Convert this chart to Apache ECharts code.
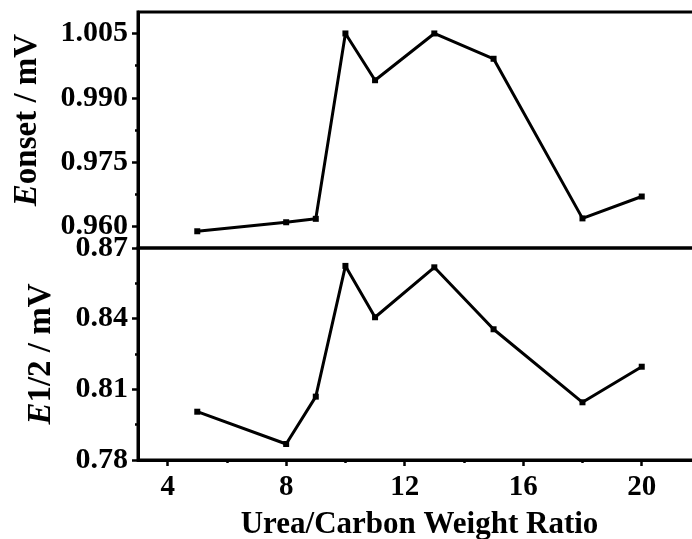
<!DOCTYPE html>
<html><head><meta charset="utf-8">
<script src="https://cdn.jsdelivr.net/npm/echarts@6/dist/echarts.min.js"></script>
<style>html,body{margin:0;padding:0;background:#fff}#c{width:692px;height:539px}</style>
</head><body><div id="c"></div>
<script>
const ratio = [5, 8, 9, 10, 11, 13, 15, 18, 20];
const eOnset = [0.9589, 0.9610, 0.9618, 1.0050, 0.9941, 1.0050, 0.9991, 0.9619, 0.9670];
const eHalf = [0.8005, 0.7868, 0.8069, 0.8624, 0.8406, 0.8618, 0.8355, 0.8045, 0.8196];
const xTicks = [4, 8, 12, 16, 20];
const xMinor = [6, 10, 14, 18];
const onsetTicks = [0.960, 0.975, 0.990, 1.005];
const onsetMinor = [0.9675, 0.9825, 0.9975];
const halfTicks = [0.78, 0.81, 0.84, 0.87];
const halfMinor = [0.795, 0.825, 0.855];

const FF = 'Liberation Serif';
const labY = {fontFamily: FF, fontWeight: 'bold', fontSize: 30, color: '#000'};
const labX = {fontFamily: FF, fontWeight: 'bold', fontSize: 29, color: '#000'};
const nameStyle = (pad) => ({
  fontFamily: FF, fontWeight: 'bold', fontSize: 33, color: '#000', padding: pad,
  rich: {i: {fontFamily: FF, fontWeight: 'bold', fontStyle: 'italic', fontSize: 33, color: '#000'}}
});
const lineBlack = {show: true, onZero: false, lineStyle: {color: '#000', width: 3}};
const hidden = {show: false};

const chart = echarts.init(document.getElementById('c'), null, {renderer: 'canvas'});
chart.setOption({
  animation: false,
  backgroundColor: '#fff',
  grid: [
    {left: 138, top: 12, width: 563, height: 236, containLabel: false, outerBoundsMode: 'none',
     show: true, borderColor: '#000', borderWidth: 3, backgroundColor: 'transparent'},
    {left: 138, top: 248, width: 563, height: 212, containLabel: false, outerBoundsMode: 'none',
     show: true, borderColor: '#000', borderWidth: 3, backgroundColor: 'transparent'}
  ],
  xAxis: [
    {gridIndex: 0, type: 'value', min: 3, max: 22, position: 'bottom',
     axisLine: hidden, axisTick: hidden, axisLabel: hidden, splitLine: hidden},
    {gridIndex: 1, type: 'value', min: 3, max: 22, position: 'bottom',
     axisLine: lineBlack,
     axisTick: {show: true, customValues: xTicks, length: 6, lineStyle: {color: '#000', width: 2.5}},
     axisLabel: Object.assign({customValues: xTicks, margin: 13}, labX),
     splitLine: hidden,
     name: 'Urea/Carbon Weight Ratio', nameLocation: 'middle', nameGap: 49,
     nameTextStyle: {fontFamily: FF, fontWeight: 'bold', fontSize: 31, color: '#000'}},
    {gridIndex: 1, type: 'value', min: 3, max: 22, position: 'bottom',
     axisLine: hidden,
     axisTick: {show: true, customValues: xMinor, length: 3, lineStyle: {color: '#000', width: 2.5}},
     axisLabel: hidden, splitLine: hidden}
  ],
  yAxis: [
    {gridIndex: 0, type: 'value', min: 0.955, max: 1.010, position: 'left',
     axisLine: lineBlack,
     axisTick: {show: true, customValues: onsetTicks, length: 6, lineStyle: {color: '#000', width: 2.5}},
     axisLabel: Object.assign({customValues: onsetTicks, margin: 10, formatter: v => v.toFixed(3)}, labY),
     splitLine: hidden,
     name: '{i|E}onset / mV', nameLocation: 'middle', nameGap: 94, nameTextStyle: nameStyle([0, 0, 0, 20])},
    {gridIndex: 0, type: 'value', min: 0.955, max: 1.010, position: 'left',
     axisLine: hidden,
     axisTick: {show: true, customValues: onsetMinor, length: 3, lineStyle: {color: '#000', width: 2.5}},
     axisLabel: hidden, splitLine: hidden},
    {gridIndex: 1, type: 'value', min: 0.78, max: 0.87, position: 'left',
     axisLine: lineBlack,
     axisTick: {show: true, customValues: halfTicks, length: 6, lineStyle: {color: '#000', width: 2.5}},
     axisLabel: Object.assign({customValues: halfTicks, margin: 10, formatter: v => v.toFixed(2)}, labY),
     splitLine: hidden,
     name: '{i|E}1/2 / mV', nameLocation: 'middle', nameGap: 80, nameTextStyle: nameStyle([0, 0, 0, 0])},
    {gridIndex: 1, type: 'value', min: 0.78, max: 0.87, position: 'left',
     axisLine: hidden,
     axisTick: {show: true, customValues: halfMinor, length: 3, lineStyle: {color: '#000', width: 2.5}},
     axisLabel: hidden, splitLine: hidden}
  ],
  series: [
    {type: 'line', xAxisIndex: 0, yAxisIndex: 0,
     data: ratio.map((x, i) => [x, eOnset[i]]),
     symbol: 'rect', symbolSize: 6, showAllSymbol: true,
     lineStyle: {color: '#000', width: 3}, itemStyle: {color: '#000'}},
    {type: 'line', xAxisIndex: 1, yAxisIndex: 2,
     data: ratio.map((x, i) => [x, eHalf[i]]),
     symbol: 'rect', symbolSize: 6, showAllSymbol: true,
     lineStyle: {color: '#000', width: 3}, itemStyle: {color: '#000'}}
  ]
});
</script></body></html>
